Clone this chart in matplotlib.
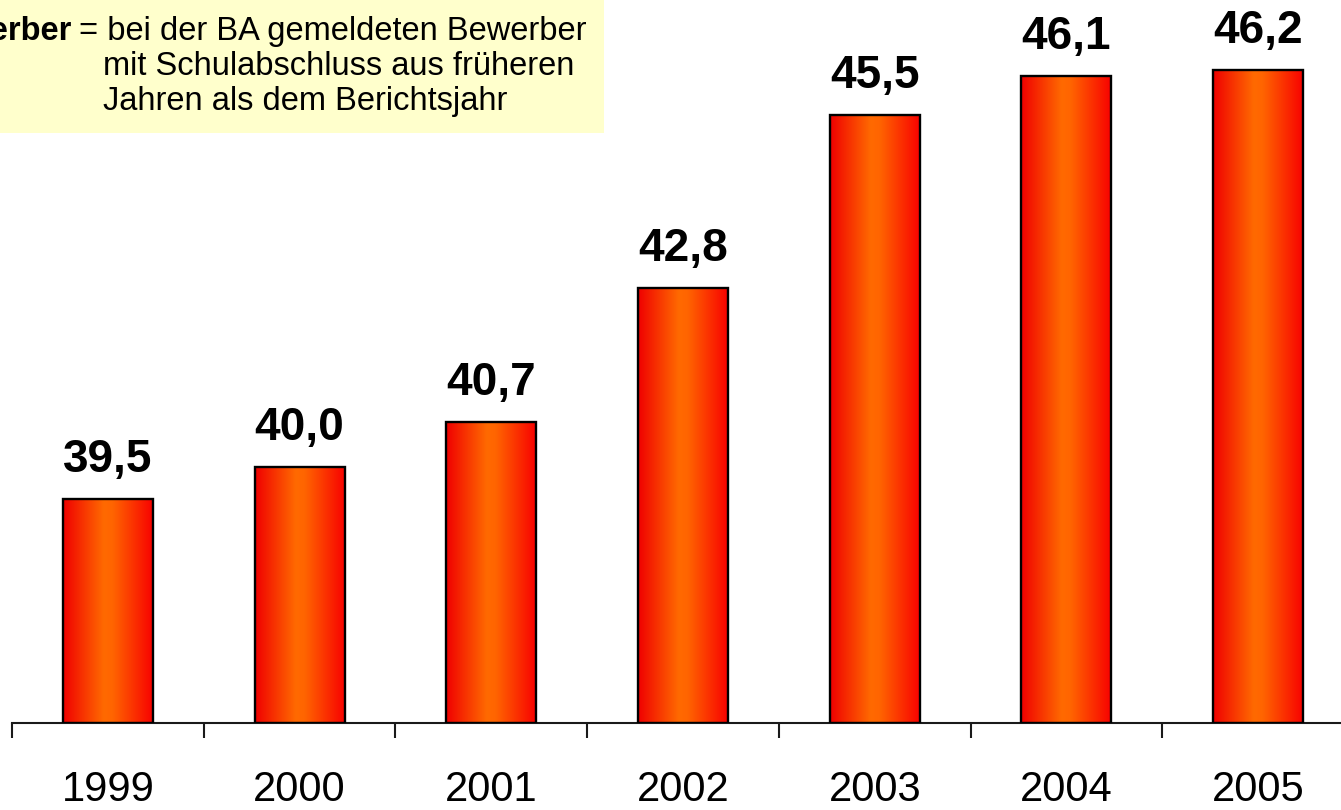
"""Bar chart: Altbewerber share, 1999-2005, with a horizontal red/orange gradient on the bars."""
import matplotlib
matplotlib.use('agg')
import matplotlib.pyplot as plt
import numpy as np
from matplotlib.colors import LinearSegmentedColormap
from matplotlib.patches import Rectangle

years = ['1999', '2000', '2001', '2002', '2003', '2004', '2005']
values = [39.5, 40.0, 40.7, 42.8, 45.5, 46.1, 46.2]
value_labels = ['39,5', '40,0', '40,7', '42,8', '45,5', '46,1', '46,2']

note_term = 'Altbewerber'
note_lines = ['= bei der BA gemeldeten Bewerber',
              'mit Schulabschluss aus früheren',
              'Jahren als dem Berichtsjahr']

plt.rcParams['font.family'] = ['Liberation Sans', 'DejaVu Sans']

W, H = 1341, 810


def gradient_bars(ax, x, heights, width, bottom):
    cmap = LinearSegmentedColormap.from_list(
        'bar', [(0.0, '#f00000'), (0.45, '#ff6a00'), (0.55, '#ff6400'), (1.0, '#f80000')])
    grad = np.linspace(0, 1, 256).reshape(1, -1)
    bars = ax.bar(x, np.array(heights) - bottom, width=width, bottom=bottom,
                  facecolor='none', edgecolor='black', linewidth=1.7, zorder=3)
    for b in bars:
        x0, y0 = b.get_x(), b.get_y()
        w, h = b.get_width(), b.get_height()
        im = ax.imshow(grad, cmap=cmap, aspect='auto',
                       extent=(x0, x0 + w, y0, y0 + h), zorder=2,
                       interpolation='bilinear')
        clip = Rectangle((x0, y0), w, h, transform=ax.transData)
        im.set_clip_path(clip)
    return bars


def main():
    fig = plt.figure(figsize=(W / 100, H / 100), dpi=100)
    ax_left = 12 / W
    ax_right = 1354 / W
    ax_bottom = (H - 723) / H
    ax = fig.add_axes([ax_left, ax_bottom, ax_right - ax_left, 1 - ax_bottom])

    y0 = 36.0
    px_per_unit = (500 - 71) / (46.2 - 39.5)
    ax.set_ylim(y0, y0 + 723 / px_per_unit)
    ax.set_xlim(-0.5, len(years) - 0.5)

    x = np.arange(len(years))
    gradient_bars(ax, x, values, 0.47, y0)

    for xi, v, lab in zip(x, values, value_labels):
        ax.annotate(lab, (xi, v), xytext=(0, 19.5), textcoords='offset points',
                    ha='center', va='baseline', fontsize=33, fontweight='bold',
                    annotation_clip=False)

    for side in ['top', 'right', 'left']:
        ax.spines[side].set_visible(False)
    ax.spines['bottom'].set_linewidth(1.5)
    ax.spines['bottom'].set_color('#1a1a1a')
    ax.set_yticks([])

    ax.set_xticks(np.arange(len(years) + 1) - 0.5)
    ax.set_xticklabels([])
    ax.tick_params(axis='x', which='major', length=11, width=1.5, color='#1a1a1a', direction='out')
    ax.set_xticks(x, minor=True)
    ax.set_xticklabels(years, minor=True, fontsize=30)
    ax.tick_params(axis='x', which='minor', length=0, pad=34)

    # note box in the top left corner (cut off at the figure edge)
    fig.patches.append(Rectangle((0, 1 - 133 / H), 604 / W, 133 / H,
                                 transform=fig.transFigure, facecolor='#ffffcc',
                                 edgecolor='none', zorder=0))
    fs = 23.5
    fig.text(72 / W, 1 - 40 / H, note_term, fontsize=fs, fontweight='bold',
             ha='right', va='baseline')
    fig.text(79 / W, 1 - 40 / H, note_lines[0], fontsize=fs, ha='left', va='baseline')
    fig.text(103 / W, 1 - 75 / H, note_lines[1], fontsize=fs, ha='left', va='baseline')
    fig.text(103 / W, 1 - 110 / H, note_lines[2], fontsize=fs, ha='left', va='baseline')

    fig.savefig('out.png', dpi=100)


if __name__ == '__main__':
    main()
